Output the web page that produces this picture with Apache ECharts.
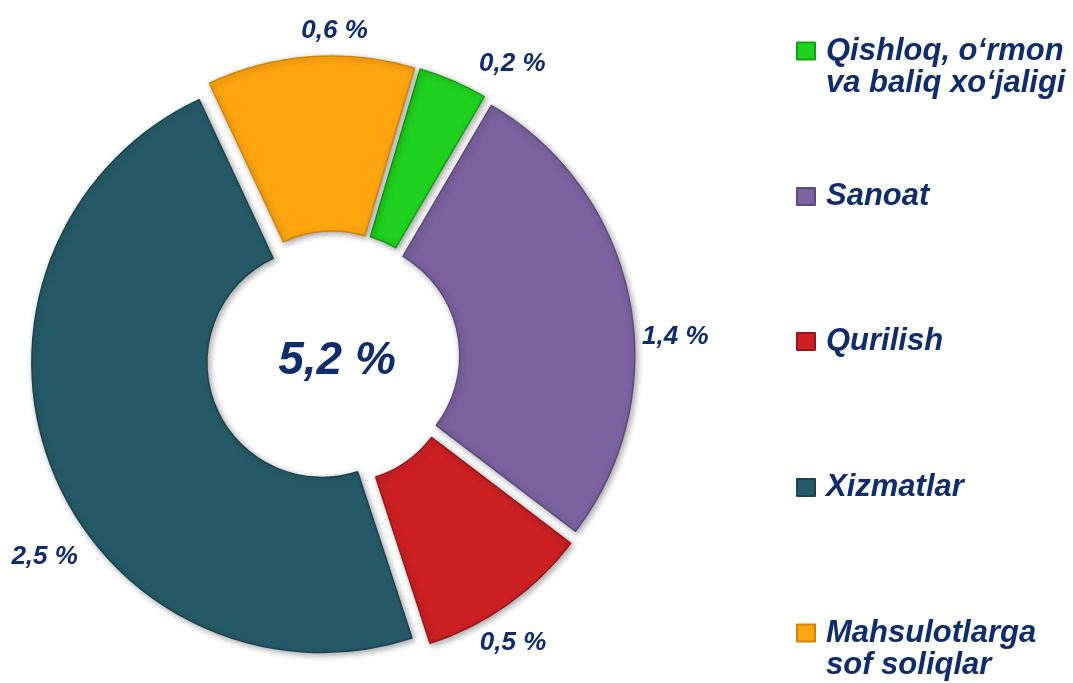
<!DOCTYPE html>
<html>
<head>
<meta charset="utf-8">
<script src="https://cdn.jsdelivr.net/npm/echarts@6/dist/echarts.min.js"></script>
<style>
  html, body { margin: 0; padding: 0; background: #ffffff; }
  #chart { width: 1073px; height: 683px; }
</style>
</head>
<body>
<div id="chart"></div>
<script>
  // categories and values
  var categories = ['Qishloq, o‘rmon\nva baliq xo‘jaligi', 'Sanoat', 'Qurilish', 'Xizmatlar', 'Mahsulotlarga\nsof soliqlar'];
  var values = [0.2, 1.4, 0.5, 2.5, 0.6];
  var totalLabel = '5,2 %';
  var colors = ['#1fd21f', '#7b62a0', '#cc2022', '#265a68', '#ffa50f'];
  var edgeColors = ['#14a014', '#5e4a80', '#9a1518', '#1a4350', '#d08408'];

  // layout helpers (not data)
  var legendTops = [9, 176, 321, 467, 591];
  var labelShift = [[17, -8], [-2, 39], [-39, 31], [40, 84], [63, -16]];

  var navy = '#0f2c6b';
  var font = 'Arial, "Liberation Sans", sans-serif';

  var myChart = echarts.init(document.getElementById('chart'));

  var pieData = [];
  for (var i = 0; i < values.length; i++) {
    pieData.push({
      name: categories[i],
      value: values[i],
      selected: true,
      itemStyle: { color: colors[i], borderColor: edgeColors[i] }
    });
  }

  var legends = [];
  for (var k = 0; k < categories.length; k++) {
    legends.push({
      orient: 'vertical',
      left: 791,
      top: legendTops[k],
      itemWidth: 18,
      itemHeight: 17,
      icon: 'rect',
      selectedMode: false,
      data: [categories[k]],
      formatter: function (name) {
        var lines = name.split('\n');
        var out = lines.map(function (l) { return '{a|' + l + '}'; }).join('\n');
        // blank line on top keeps the icon level with the first line
        if (lines.length > 1) out = '{s| }\n' + out;
        return out;
      },
      textStyle: {
        color: navy,
        rich: {
          a: {
            color: navy,
            fontSize: 31,
            fontWeight: 'bold',
            fontStyle: 'italic',
            fontFamily: font,
            lineHeight: 32,
            padding: [0, 0, 0, 6]
          },
          s: { fontSize: 10, lineHeight: 32 }
        }
      }
    });
  }

  var option = {
    backgroundColor: '#ffffff',
    animation: false,
    title: {
      text: totalLabel,
      left: 332,
      top: 333,
      textAlign: 'center',
      textStyle: {
        color: navy,
        fontSize: 46,
        fontWeight: 'bold',
        fontStyle: 'italic',
        fontFamily: font
      }
    },
    legend: legends,
    series: [
      {
        type: 'pie',
        center: [333, 358],
        radius: [115, 290],
        startAngle: 73.5,
        selectedMode: 'multiple',
        selectedOffset: 12,
        data: pieData,
        itemStyle: {
          borderWidth: 1.5,
          shadowBlur: 6,
          shadowColor: 'rgba(0,0,0,0.35)',
          shadowOffsetX: 2,
          shadowOffsetY: 2
        },
        label: {
          show: true,
          position: 'outside',
          overflow: 'none',
          formatter: function (p) {
            return String(p.value).replace('.', ',') + ' %';
          },
          color: navy,
          fontSize: 26,
          fontWeight: 'bold',
          fontStyle: 'italic',
          fontFamily: font
        },
        labelLine: { show: false, length: 10, length2: 0 },
        labelLayout: function (p) {
          var s = labelShift[p.dataIndex];
          return { dx: s[0], dy: s[1] };
        },
        emphasis: { disabled: true }
      }
    ]
  };
  myChart.setOption(option, true);
</script>
</body>
</html>
